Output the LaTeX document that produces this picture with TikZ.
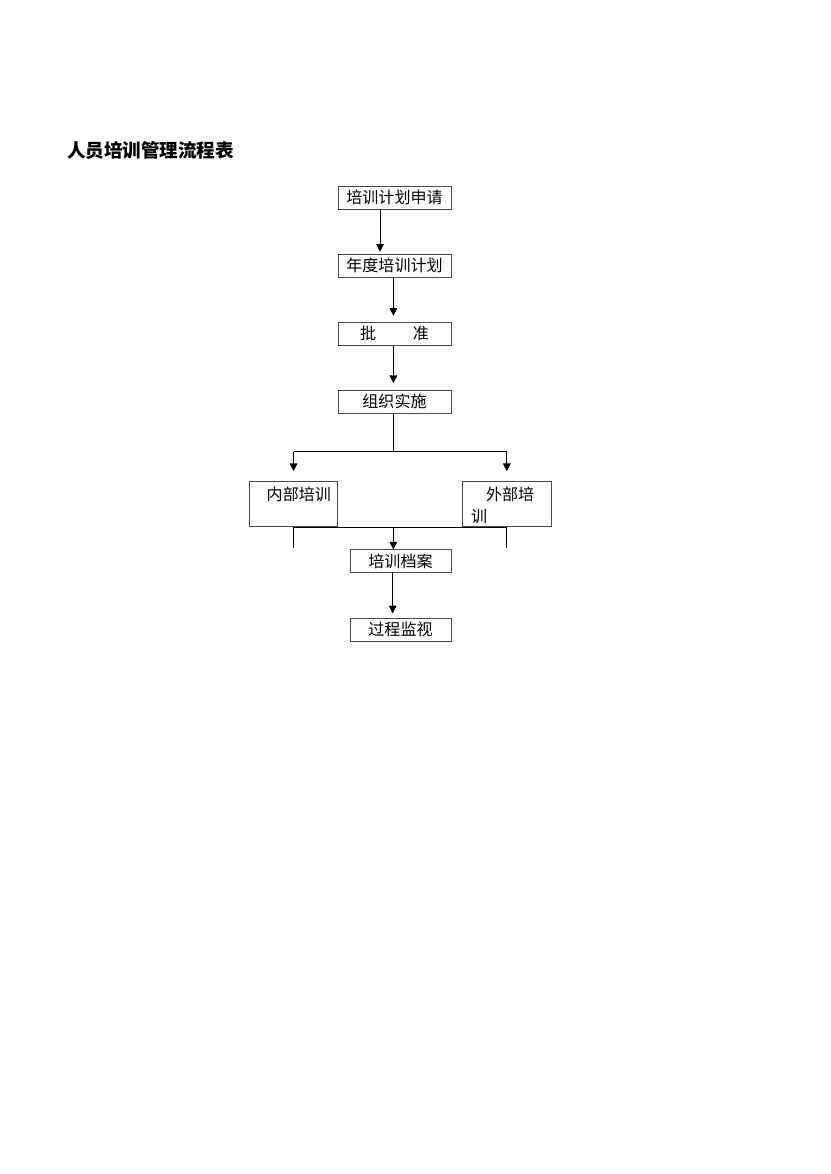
\documentclass[tikz,border=0pt]{standalone}
\usepackage{fontspec}
\setmainfont{Noto Sans CJK SC}
\usetikzlibrary{arrows.meta}
\begin{document}
\begin{tikzpicture}[x=0.7169pt, y=-0.7169pt, node distance={48.8pt},
    line width=0.6pt, >={Triangle[length=5.5pt, width=5.5pt]},
    main/.style = {draw=black!70, minimum width=81pt, minimum height=16.5pt, inner sep=0pt, font=\fontsize{11.5}{13}\selectfont},
    low/.style = {main, minimum width=72.4pt},
    side/.style = {draw=black!70, text width=63.4pt, inner xsep=0pt, inner ysep=2pt, text height=12pt, text depth=16.8pt, align=left, font=\fontsize{11.5}{15.5}\selectfont}]
    \useasboundingbox (0,0) rectangle (830,1174);
    \node[anchor=west, font=\bfseries\fontsize{13.3}{16}\selectfont] (title) at (62,150) {人员培训管理流程表};
    \node[main] (apply) at (394.5,197.5) {培训计划申请};
    \node[main] (plan) [below of=apply] {年度培训计划};
    \node[main] (approve) [below of=plan] {批\hspace{2.3em}准};
    \node[main] (run) [below of=approve] {组织实施};
    \node[side] (inner) at (293.5,503.8) {\hspace*{12.5pt}内部培训};
    \node[side] (outer) at (506.8,503.8) {\hspace*{16.8pt}外部培\\\hspace*{6.2pt}训};
    \node[low] (files) at (400.5,561.4) {培训档案};
    \node[low] (monitor) [below of=files] {过程监视};
    \coordinate (fork) at (393.4,451.7);
    \draw[->, shorten >=1.4pt] ([xshift=-10.4pt]apply.south) -- ([xshift=-10.4pt]plan.north);
    \draw[->, shorten >=4.3pt] (fork |- plan.south) -- (fork |- approve.north);
    \draw[->, shorten >=4.8pt] (fork |- approve.south) -- (fork |- run.north);
    \draw (fork |- run.south) -- (fork);
    \draw (fork -| inner) -- (fork -| outer);
    \draw[->, shorten >=6.7pt] (fork -| inner) -- (inner.north);
    \draw[->, shorten >=6.7pt] (fork -| outer) -- (outer.north);
    % lower join
    \draw (inner.south) -- (outer.south);
    \draw (inner.south) -- ([yshift=1.4pt]inner.south |- files.north);
    \draw (outer.south) -- ([yshift=1.4pt]outer.south |- files.north);
    \draw[->] (fork |- inner.south) -- (fork |- files.north);
    \draw[->, shorten >=3pt] ([xshift=-5.6pt]files.south) -- ([xshift=-5.6pt]monitor.north);
\end{tikzpicture}
\end{document}
